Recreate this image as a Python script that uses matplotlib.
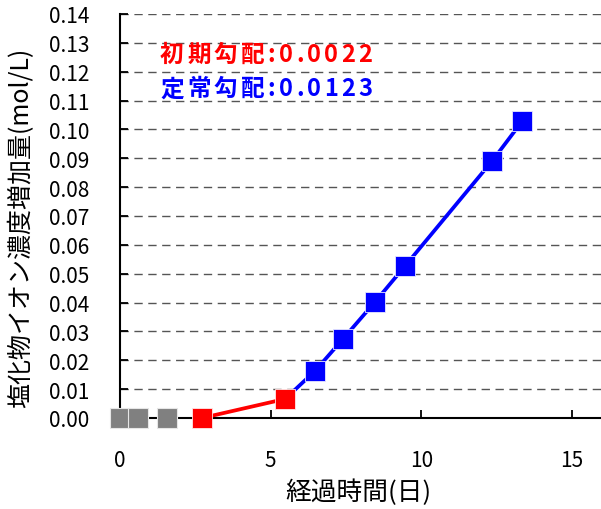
import matplotlib
matplotlib.use("Agg")
import matplotlib.pyplot as plt
import numpy as np

plt.rcParams['font.family'] = ['Noto Sans CJK JP', 'DejaVu Sans']

# elapsed days and chloride ion concentration increase (mol/L)
baseline_days = [0.0, 0.6, 1.55]
baseline_conc = [0.0, 0.0, 0.0]
initial_days = [2.72, 5.48]
initial_conc = [0.0, 0.0066]
steady_days = [6.47, 7.4, 8.46, 9.46, 12.35, 13.35]
steady_conc = [0.0163, 0.0274, 0.0402, 0.0527, 0.0891, 0.1029]

initial_label = "初期勾配:0.0022"
steady_label = "定常勾配:0.0123"
x_ticks = [0, 5, 10, 15]
y_ticks = np.round(np.arange(0, 0.1401, 0.01), 2)

GRAY = "#808080"
RED = "#ff0000"
BLUE = "#0000ff"

fig = plt.figure(figsize=(6.01, 5.10), dpi=100)
ax = fig.add_axes([120 / 601, 1 - 419 / 510, 481 / 601, 404 / 510])
ax.set_xlim(0, 15.96)
ax.set_ylim(0, 0.14)

# dashed horizontal grid
for yv in y_ticks[1:]:
    ax.axhline(yv, color="#555555", lw=1.0, ls=(0, (6, 4)), zorder=1)

# steady-state segment starts from the last point of the initial segment
ax.plot([initial_days[-1]] + steady_days, [initial_conc[-1]] + steady_conc,
        color=BLUE, lw=2.7, zorder=4, clip_on=False)
ax.plot(steady_days, steady_conc, ls="none", marker="s", ms=14.5,
        mew=0.6, mec="#e8e8ff", color=BLUE, zorder=5, clip_on=False)
ax.plot(initial_days, initial_conc, color=RED, lw=2.7, marker="s", ms=14.5,
        mew=0.6, mec="#ffe8e8", zorder=6, clip_on=False)
ax.plot(baseline_days, baseline_conc, ls="none", marker="s", ms=14.5,
        mew=0.8, mec="#e6e6e6", color=GRAY, zorder=6, clip_on=False)

for side in ("top", "right"):
    ax.spines[side].set_visible(False)
for side in ("left", "bottom"):
    ax.spines[side].set_linewidth(1.5)
    ax.spines[side].set_zorder(3)

ax.set_xticks(x_ticks)
ax.set_yticks(y_ticks)
ax.set_yticklabels([f"{v:.2f}" for v in y_ticks])
ax.tick_params(axis="both", direction="in", length=6, width=1.3,
               labelsize=15, pad=22, colors="black")


def tracked_text(ax, x, y, s, spacing, **kw):
    """Draw a string character by character with extra spacing (pixels)."""
    t = ax.text(x, y, s[0], ha="left", va="center", **kw)
    for ch in s[1:]:
        t = ax.annotate(ch, xy=(1, y), xycoords=(t, "data"),
                        xytext=(spacing, 0), textcoords="offset pixels",
                        ha="left", va="center", annotation_clip=False, **kw)
    return t


tracked_text(ax, 1.33, 0.1262, initial_label, 3.3, color=RED,
             fontsize=17, fontweight="bold", zorder=7)
tracked_text(ax, 1.33, 0.1143, steady_label, 3.3, color=BLUE,
             fontsize=17, fontweight="bold", zorder=7)

fig.text(21 / 601, 1 - 228 / 510, "塩化物イオン濃度増加量(mol/L)",
         rotation=90, ha="center", va="center", fontsize=18)
fig.text(358 / 601, 1 - 493 / 510, "経過時間(日)",
         ha="center", va="center", fontsize=18.5)

fig.savefig("out.png", dpi=100)
